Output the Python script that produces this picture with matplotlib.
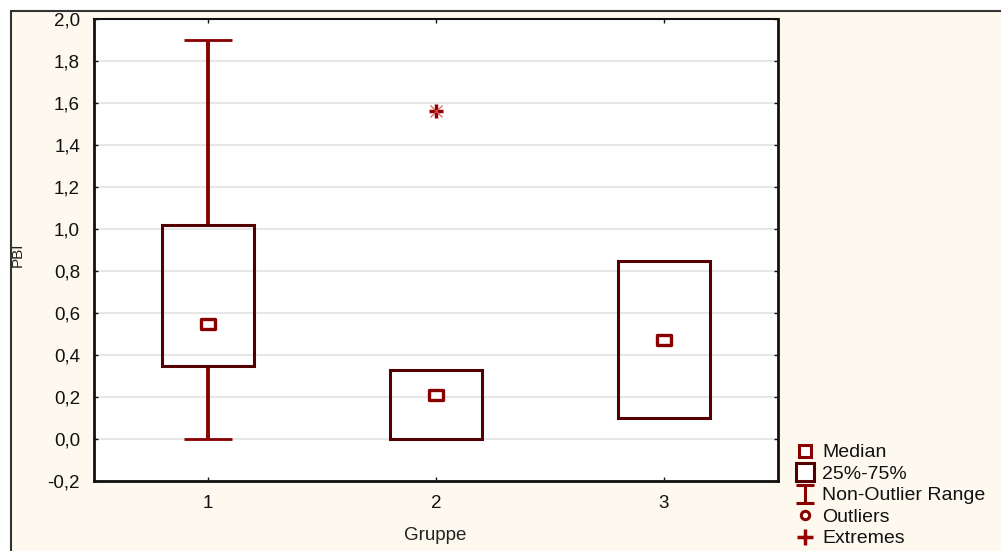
"""Box plot of PBI by group (Statistica style)."""

import numpy as np
import matplotlib
matplotlib.use("Agg")
import matplotlib.pyplot as plt
from matplotlib.lines import Line2D
from matplotlib.patches import Rectangle
from matplotlib.path import Path
from matplotlib.ticker import FuncFormatter, MultipleLocator

# data
groups = [1, 2, 3]
medians = [0.55, 0.21, 0.47]
q1 = [0.35, 0.0, 0.10]
q3 = [1.02, 0.33, 0.85]
whisker_lo = [0.0, 0.0, 0.10]
whisker_hi = [1.90, 0.33, 0.85]
extreme_x = [2]
extreme_y = [1.56]

box_color = "#550000"
red = "#880000"
bg = "#fef9ee"

plt.rcParams["font.family"] = ["Liberation Sans", "DejaVu Sans"]

fig = plt.figure(figsize=(10.01, 5.51), dpi=100, facecolor="white")
# cream panel with grey frame on top and left
fig.patches.append(Rectangle((11 / 1001, -0.01), 1.0, 1 - 11 / 551 + 0.01,
                             transform=fig.transFigure, facecolor=bg,
                             edgecolor="#333333", linewidth=1.5, zorder=-5))

ax = fig.add_axes([94 / 1001, 1 - 481 / 551, 684 / 1001, 462 / 551])
ax.set_facecolor("white")

ax.set_xlim(0.5, 3.5)
ax.set_ylim(-0.2, 2.0)
ax.yaxis.set_major_locator(MultipleLocator(0.2))
ax.set_xticks(groups)
ax.yaxis.set_major_formatter(FuncFormatter(lambda v, p: f"{v:.1f}".replace(".", ",").replace("-0,0", "0,0")))
ax.grid(axis="y", color="#e3e3e3", linewidth=1.2)
ax.set_axisbelow(True)
ax.tick_params(direction="in", length=3, width=1, labelsize=13.5, colors="#111111",
               top=True, right=True, pad=10)
for s in ax.spines.values():
    s.set_linewidth(2)
    s.set_color("#111111")
ax.spines["top"].set_linewidth(1.5)

g = np.array(groups, dtype=float)
lo = np.array(q1)
hi = np.array(q3)
wl = np.array(whisker_lo)
wh = np.array(whisker_hi)

# whiskers (only where they extend past the box)
up = wh > hi
down = wl < lo
ax.vlines(g[up], hi[up], wh[up], color=red, linewidth=2.8, zorder=2)
ax.hlines(wh[up], g[up] - 0.105, g[up] + 0.105, color=red, linewidth=2, zorder=2)
ax.vlines(g[down], wl[down], lo[down], color=red, linewidth=2.8, zorder=2)
ax.hlines(wl[down], g[down] - 0.105, g[down] + 0.105, color=red, linewidth=2, zorder=2)

# boxes
ax.bar(g, hi - lo, bottom=lo, width=0.4, fill=False, edgecolor=box_color,
       linewidth=2.2, zorder=3)

# medians: slightly wide rectangle marker
med_path = Path([(-1.3, -1), (1.3, -1), (1.3, 1), (-1.3, 1), (-1.3, -1)],
                [Path.MOVETO, Path.LINETO, Path.LINETO, Path.LINETO, Path.CLOSEPOLY])
ax.plot(g, medians, linestyle="none", marker=med_path, markersize=10,
        markerfacecolor="white", markeredgecolor=red, markeredgewidth=2.4, zorder=4)

# extremes
ax.plot(extreme_x, extreme_y, linestyle="none", marker="+", markersize=10,
        markeredgewidth=2.5, color="#990000", zorder=4)
ax.plot(extreme_x, extreme_y, linestyle="none", marker="x", markersize=8,
        markeredgewidth=0.8, color="#cc5555", zorder=4)

fig.text(435 / 1001, 1 - 535 / 551, "Gruppe", ha="center", va="center",
         fontsize=13.5, color="#222222")
fig.text(18 / 1001, 1 - 255 / 551, "PBI", ha="center", va="center",
         rotation=90, fontsize=11, color="#222222")

# legend
i_path = Path([(-1, 1), (1, 1), (0, 1), (0, -1), (-1, -1), (1, -1)],
              [Path.MOVETO, Path.LINETO, Path.MOVETO, Path.LINETO,
               Path.MOVETO, Path.LINETO])
handles = [
    Line2D([], [], linestyle="none", marker="s", markersize=8,
           markerfacecolor="white", markeredgecolor=red, markeredgewidth=2.2),
    Line2D([], [], linestyle="none", marker="s", markersize=13,
           markerfacecolor="white", markeredgecolor=box_color, markeredgewidth=2.2),
    Line2D([], [], linestyle="none", marker=i_path, markersize=13,
           markeredgecolor=red, markeredgewidth=2.2),
    Line2D([], [], linestyle="none", marker="o", markersize=6,
           markerfacecolor="white", markeredgecolor=red, markeredgewidth=2.2),
    Line2D([], [], linestyle="none", marker="+", markersize=11,
           markeredgewidth=2.5, color="#990000"),
]
labels = ["Median", "25%-75%", "Non-Outlier Range", "Outliers", "Extremes"]
fig.legend(handles, labels, loc="upper left", bbox_to_anchor=(786 / 1001, 1 - 434 / 551),
           frameon=False, fontsize=14, handlelength=1.0, handletextpad=0.35,
           labelspacing=0.2, borderpad=0, labelcolor="#111111")

fig.savefig("out.png", dpi=100, facecolor=fig.get_facecolor())
